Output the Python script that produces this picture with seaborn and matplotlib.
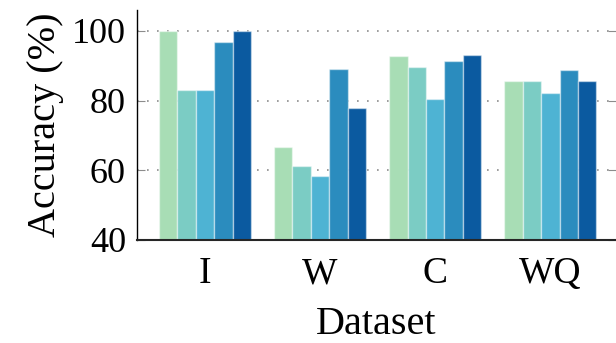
import numpy as np
import pandas as pd
import matplotlib
matplotlib.use("Agg")
import matplotlib.pyplot as plt
import seaborn as sns

# Datos
datasets = ["I", "W", "C", "WQ"]
methods = ["M1", "M2", "M3", "M4", "M5"]
acc_m1 = [100.0, 66.8, 92.9, 85.6]
acc_m2 = [83.1, 61.3, 89.7, 85.6]
acc_m3 = [83.1, 58.5, 80.4, 82.1]
acc_m4 = [96.9, 89.1, 91.5, 88.7]
acc_m5 = [100.0, 78.0, 93.2, 85.6]
yticks = [40, 60, 80, 100]

palette = ["#a8ddb5", "#7bccc4", "#4eb3d3", "#2b8cbe", "#0b5aa0"]

rows = []
for m, vals in zip(methods, [acc_m1, acc_m2, acc_m3, acc_m4, acc_m5]):
    for d, v in zip(datasets, vals):
        rows.append({"dataset": d, "method": m, "acc": v})
df = pd.DataFrame(rows)

sns.set_style("white")
plt.rcParams["font.family"] = ["Liberation Serif", "DejaVu Serif"]
plt.rcParams["text.color"] = "black"
plt.rcParams["axes.labelcolor"] = "black"

W, H = 616, 343
fig = plt.figure(figsize=(W / 100, H / 100), dpi=100)
ax = fig.add_axes([137 / W, 1 - 240 / H, (616 - 137) / W, 230 / H])

sns.barplot(data=df, x="dataset", y="acc", hue="method", order=datasets,
            hue_order=methods, palette=palette, width=0.8, legend=False,
            edgecolor=(1, 1, 1, 0.45), linewidth=1.0, saturation=1, ax=ax)

# Rejilla punteada
for y in yticks[1:]:
    ax.axhline(y, color="0.55", linestyle=(0, (1, 5)), linewidth=1.2, zorder=0)

ax.set_ylim(40, 106)
ax.set_xlim(-0.59, 3.57)
ax.set_yticks(yticks)
ax.set_xlabel("Dataset", fontsize=29, labelpad=11, color="black")
ax.set_ylabel("Accuracy (%)", fontsize=29, labelpad=6, color="black")

ax.tick_params(axis="y", direction="in", length=6, width=0.8, color="0.55",
               labelsize=26, pad=8, right=True, left=True, labelcolor="black")
ax.tick_params(axis="x", direction="out", length=10, width=0.8, color="0.6",
               labelsize=27, pad=2, labelcolor="black")

for s in ["top", "right"]:
    ax.spines[s].set_visible(False)
ax.spines["left"].set_color("black")
ax.spines["left"].set_linewidth(1.0)
ax.spines["bottom"].set_color("0.15")
ax.spines["bottom"].set_linewidth(1.5)

fig.savefig("out.png", dpi=100)
